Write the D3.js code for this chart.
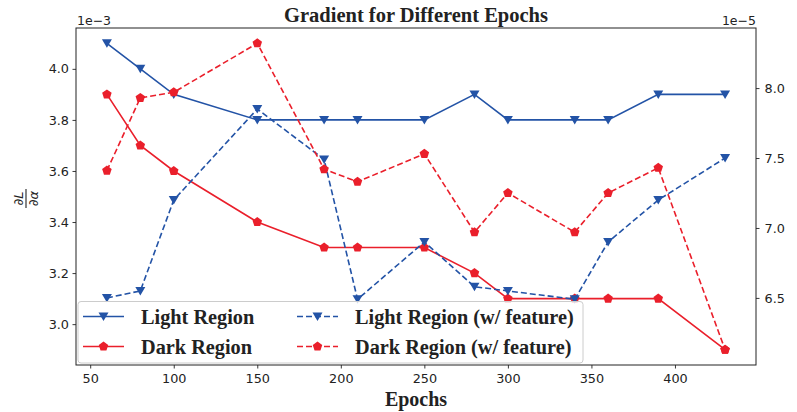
<!DOCTYPE html>
<html>
<head>
<meta charset="utf-8">
<script src="https://cdn.jsdelivr.net/npm/d3@7/dist/d3.min.js"></script>
<style>
  body { margin: 0; background: #fff; }
  svg text { fill: #222; }
</style>
</head>
<body>
<div id="chart-area"></div>
<script>
// Data
const epochs = [60, 80, 100, 150, 190, 210, 250, 280, 300, 340, 360, 390, 430];
const lightRegion = [4.1, 4.0, 3.9, 3.8, 3.8, 3.8, 3.8, 3.9, 3.8, 3.8, 3.8, 3.9, 3.9];        // x1e-3
const darkRegion = [3.9, 3.7, 3.6, 3.4, 3.3, 3.3, 3.3, 3.2, 3.1, 3.1, 3.1, 3.1, 2.9];         // x1e-3
const lightFeature = [6.5, 6.55, 7.2, 7.85, 7.49, 6.49, 6.9, 6.58, 6.55, 6.49, 6.9, 7.2, 7.5]; // x1e-5
const darkFeature = [7.41, 7.93, 7.97, 8.32, 7.42, 7.33, 7.53, 6.97, 7.25, 6.97, 7.25, 7.43, 6.13]; // x1e-5
const xTicks = [50, 100, 150, 200, 250, 300, 350, 400];
const leftTicks = [3.0, 3.2, 3.4, 3.6, 3.8, 4.0];
const rightTicks = [6.5, 7.0, 7.5, 8.0];

const W = 797, H = 412;
const plot = { left: 76, right: 756, top: 28, bottom: 365 };
const blue = "#2353a6", red = "#ea1f2b";

const svg = d3.select("#chart-area").append("svg")
    .attr("width", W).attr("height", H);

// matplotlib-like 5% padding
function padded(vals) {
    const [lo, hi] = d3.extent(vals);
    const p = (hi - lo) * 0.05;
    return [lo - p, hi + p];
}

const x = d3.scaleLinear().domain(padded(epochs)).range([plot.left, plot.right]);
const yL = d3.scaleLinear().domain(padded(lightRegion.concat(darkRegion))).range([plot.bottom, plot.top]);
const yR = d3.scaleLinear().domain(padded(lightFeature.concat(darkFeature))).range([plot.bottom, plot.top]);

// Axes
const tickFont = "DejaVu Sans, sans-serif";
const xAxis = svg.append("g")
    .attr("transform", `translate(0,${plot.bottom})`)
    .call(d3.axisBottom(x).tickValues(xTicks).tickSize(3.5).tickPadding(3).tickFormat(d3.format("d")));
const leftAxis = svg.append("g")
    .attr("transform", `translate(${plot.left},0)`)
    .call(d3.axisLeft(yL).tickValues(leftTicks).tickSize(3.5).tickPadding(3.5).tickFormat(d3.format(".1f")));
const rightAxis = svg.append("g")
    .attr("transform", `translate(${plot.right},0)`)
    .call(d3.axisRight(yR).tickValues(rightTicks).tickSize(3.5).tickPadding(5).tickFormat(d3.format(".1f")));

[xAxis, leftAxis, rightAxis].forEach(a => {
    a.select(".domain").remove();
    a.selectAll("line").attr("stroke", "#222").attr("stroke-width", 0.9);
    a.selectAll("text").attr("font-family", tickFont).attr("font-size", 12.8).attr("fill", "#222");
});
xAxis.selectAll("text").attr("dy", "0.9em");

// Frame
svg.append("rect")
    .attr("x", plot.left).attr("y", plot.top)
    .attr("width", plot.right - plot.left).attr("height", plot.bottom - plot.top)
    .attr("fill", "none").attr("stroke", "#222").attr("stroke-width", 1);

// Offset texts
svg.append("text").attr("x", plot.left + 1).attr("y", 25)
    .attr("font-family", tickFont).attr("font-size", 12.5).text("1e\u22123");
svg.append("text").attr("x", plot.right).attr("y", 25).attr("text-anchor", "end")
    .attr("font-family", tickFont).attr("font-size", 12.5).text("1e\u22125");

// Title and x label
const serif = "'Liberation Serif', 'Times New Roman', serif";
svg.append("text").attr("x", (plot.left + plot.right) / 2).attr("y", 22)
    .attr("text-anchor", "middle").attr("font-family", serif).attr("font-weight", "bold")
    .attr("font-size", 20.5).text("Gradient for Different Epochs");
svg.append("text").attr("x", (plot.left + plot.right) / 2).attr("y", 406)
    .attr("text-anchor", "middle").attr("font-family", serif).attr("font-weight", "bold")
    .attr("font-size", 20).text("Epochs");

// Y label: dL / d alpha as a rotated fraction
const ylab = svg.append("g").attr("transform", `translate(26,${(plot.top + plot.bottom) / 2 + 2}) rotate(-90)`);
ylab.append("text").attr("x", 0).attr("y", -3).attr("text-anchor", "middle")
    .attr("font-family", tickFont).attr("font-size", 13).attr("font-style", "italic").text("\u2202L");
ylab.append("line").attr("x1", -9.5).attr("x2", 9.5).attr("y1", 0).attr("y2", 0)
    .attr("stroke", "#222").attr("stroke-width", 1.1);
ylab.append("text").attr("x", 0).attr("y", 11.5).attr("text-anchor", "middle")
    .attr("font-family", tickFont).attr("font-size", 13).attr("font-style", "italic").text("\u2202\u03b1");

// Marker paths
function triDown(s) {
    return `M${-s},${-s * 0.8}L${s},${-s * 0.8}L0,${s * 0.9}Z`;
}
function pentagon(r) {
    const pts = d3.range(5).map(i => {
        const a = -Math.PI / 2 + i * 2 * Math.PI / 5;
        return [r * Math.cos(a), r * Math.sin(a)];
    });
    return "M" + pts.join("L") + "Z";
}

const series = [
    { name: "Light Region", values: lightRegion, y: yL, color: blue, dash: null, marker: triDown(5) },
    { name: "Dark Region", values: darkRegion, y: yL, color: red, dash: null, marker: pentagon(5) },
    { name: "Light Region (w/ feature)", values: lightFeature, y: yR, color: blue, dash: "6,3", marker: triDown(5) },
    { name: "Dark Region (w/ feature)", values: darkFeature, y: yR, color: red, dash: "6,3", marker: pentagon(5) }
];

series.forEach(s => {
    const line = d3.line().x((d, i) => x(epochs[i])).y(d => s.y(d));
    svg.append("path")
        .datum(s.values)
        .attr("d", line)
        .attr("fill", "none")
        .attr("stroke", s.color)
        .attr("stroke-width", 1.6)
        .attr("stroke-dasharray", s.dash);
    svg.selectAll(null)
        .data(s.values)
        .enter().append("path")
        .attr("d", s.marker)
        .attr("transform", (d, i) => `translate(${x(epochs[i])},${s.y(d)})`)
        .attr("fill", s.color);
});

// Legend
const legend = svg.append("g");
legend.append("rect")
    .attr("x", 78).attr("y", 301.5).attr("width", 505).attr("height", 61.5).attr("rx", 3)
    .attr("fill", "#fff").attr("fill-opacity", 0.8)
    .attr("stroke", "#ccc").attr("stroke-width", 1);

const legendPos = [
    { x: 83, y: 316.5 }, { x: 83, y: 346.5 },
    { x: 297, y: 316.5 }, { x: 297, y: 346.5 }
];
series.forEach((s, i) => {
    const p = legendPos[i];
    const g = legend.append("g").attr("transform", `translate(${p.x},${p.y})`);
    g.append("line").attr("x1", 0).attr("x2", 41).attr("y1", 0).attr("y2", 0)
        .attr("stroke", s.color).attr("stroke-width", 1.6).attr("stroke-dasharray", s.dash);
    g.append("path").attr("d", s.marker).attr("transform", "translate(20.5,0)").attr("fill", s.color);
    g.append("text").attr("x", 58).attr("y", 7)
        .attr("font-family", serif).attr("font-weight", "bold").attr("font-size", 20.3)
        .text(s.name);
});
</script>
</body>
</html>
